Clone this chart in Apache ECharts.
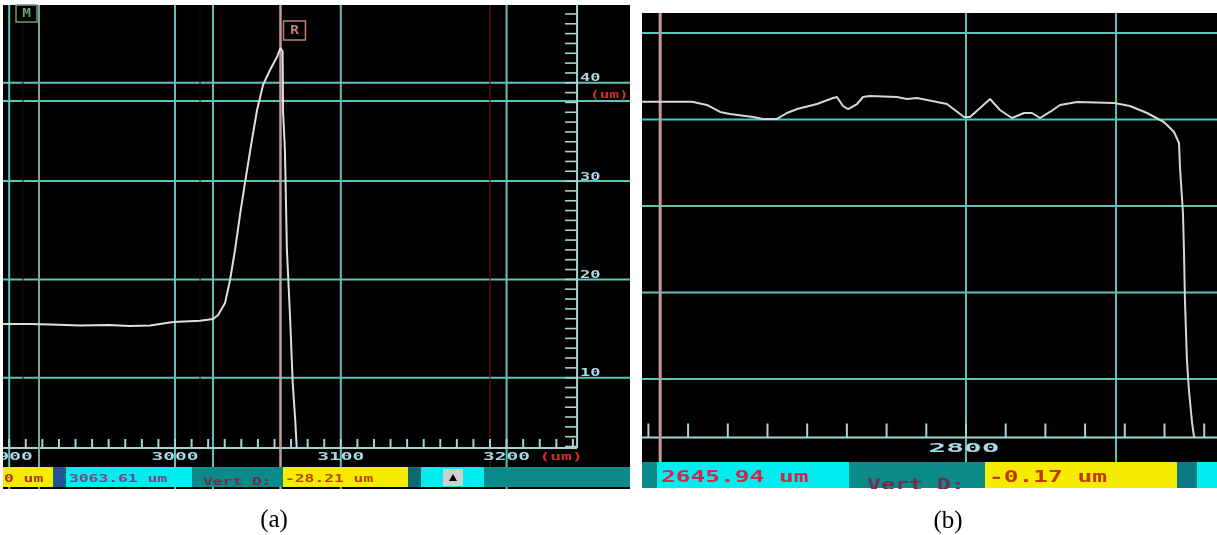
<!DOCTYPE html>
<html>
<head>
<meta charset="utf-8">
<script src="https://cdn.jsdelivr.net/npm/echarts@6/dist/echarts.min.js"></script>
<style>
  html, body { margin: 0; padding: 0; background: #fff; }
  #chart { width: 1217px; height: 535px; }
</style>
</head>
<body>
<div id="chart"></div>
<script>
// ---- Trace (a): lateral position (um) / height (um)
const profileAx = [2896.3, 2912.4, 2925.0, 2942.6, 2960.0, 2972.8, 2985.0, 2998.8, 3015.1, 3023.0,
                   3026.0, 3030.2, 3033.2, 3036.2, 3039.2, 3042.2, 3046.4, 3049.5, 3053.1, 3057.3,
                   3061.5, 3063.61, 3064.9, 3065.2, 3066.3, 3067.5, 3069.4, 3071.0, 3072.4, 3073.4];
const profileAy = [15.46, 15.46, 15.40, 15.30, 15.36, 15.26, 15.32, 15.67, 15.80, 15.97,
                   16.38, 17.60, 19.94, 22.99, 26.55, 29.81, 34.18, 37.23, 39.78, 41.30,
                   42.62, 43.54, 43.20, 37.00, 33.16, 22.99, 16.17, 9.46, 6.00, 2.95];

// ---- Trace (b)
const profileBx = [2636.8, 2662.0, 2669.5, 2676.1, 2681.1, 2692.7, 2697.7, 2704.8, 2709.8, 2714.9,
                   2724.9, 2733.0, 2735.0, 2738.0, 2740.6, 2745.1, 2748.1, 2751.6, 2765.2, 2770.3,
                   2775.3, 2785.4, 2790.4, 2799.0, 2802.0, 2807.1, 2812.1, 2817.1, 2823.2, 2829.2,
                   2833.2, 2837.3, 2842.3, 2847.4, 2855.9, 2874.6, 2882.6, 2891.2, 2899.7, 2904.8,
                   2907.3, 2907.8, 2909.3, 2909.8, 2910.3, 2911.3, 2912.3, 2913.9, 2914.9];
const profileBy = [42.06, 42.06, 41.68, 40.87, 40.64, 40.29, 40.06, 40.06, 40.75, 41.21,
                   41.79, 42.49, 42.60, 41.56, 41.21, 41.79, 42.60, 42.72, 42.60, 42.37,
                   42.49, 42.02, 41.79, 40.29, 40.29, 41.33, 42.37, 41.10, 40.17, 40.75,
                   40.75, 40.17, 40.87, 41.68, 42.02, 41.91, 41.56, 40.75, 39.71, 38.55,
                   37.28, 34.51, 29.19, 24.91, 19.13, 12.20, 8.73, 4.91, 3.29];

// ---- Screen grid lines
const gridAx = [2900, 3000, 3022.9, 3100, 3200];
const gridAy = [10, 20, 30, 38.15, 40];
const gridBx = [2800, 2875.6];
const gridBy = [10, 20, 30, 40, 50];
const faintAx = [2908.3, 3015.1];
const markAx = [3190];

// ---- Cursors
const cursorAM = 2917.98;
const cursorAR = 3063.61;
const cursorBR = 2645.94;

// ---- Scale labels
const tickLabelsAx = [2900, 3000, 3100, 3200];
const tickLabelsAy = [10, 20, 30, 40];
const tickLabelsBx = [2800];
const unitLabel = '(um)';

// ---- Readouts
const readoutA = ['0 um', '3063.61 um', 'Vert D:', '-28.21 um'];
const readoutB = ['2645.94 um', 'Vert D:', '-0.17 um'];

// Axis windows and scale positions
const AX = { min: 2896.26, max: 3274.43 };
const AY = { min: -1.32, max: 47.91 };
const BX = { min: 2636.78, max: 2926.45 };
const BY = { min: -2.60, max: 52.31 };
const RULER_A = { x: 3242.5, y: 2.85 };
const RULER_B = { y: 3.24 };

function steps(from, to, step) {
  const out = [];
  for (let v = from; v <= to + 1e-9; v += step) out.push(+v.toFixed(6));
  return out;
}
const rulerTicksAx = steps(2900, 3240, 10);
const rulerTicksAy = steps(3, 47, 1);
const rulerTicksBx = steps(2640, 2920, 20);

const MONO = 'DejaVu Sans Mono';
const GRID_COLOR = '#5fc3bb';
const RULER_COLOR = '#a9d3d3';
const LABEL_COLOR = '#a9dbe6';

function custom(idx, data, renderItem, z) {
  return { type: 'custom', xAxisIndex: idx, yAxisIndex: idx, data, renderItem, z, silent: true, clip: false };
}
function vLine(color, width) {
  return function (params, api) {
    const cs = params.coordSys;
    const x = api.coord([api.value(0), api.value(1)])[0];
    return { type: 'line', shape: { x1: x, y1: cs.y, x2: x, y2: cs.y + cs.height },
             style: { stroke: color, lineWidth: width } };
  };
}
function hLine(color, width) {
  return function (params, api) {
    const cs = params.coordSys;
    const y = api.coord([api.value(0), api.value(1)])[1];
    return { type: 'line', shape: { x1: cs.x, y1: y, x2: cs.x + cs.width, y2: y },
             style: { stroke: color, lineWidth: width } };
  };
}
function monoText(text, x, y, size, sx, fill, align) {
  return { type: 'text', x, y, scaleX: sx,
           style: { text, fill, fontSize: size, fontFamily: MONO, fontWeight: 'bold',
                    align: align || 'center', verticalAlign: 'middle' } };
}

const series = [
  // ---- window (a)
  custom(0, gridAx.map(v => [v, AY.min]), vLine(GRID_COLOR, 2), 1),
  custom(0, gridAy.map(v => [AX.min, v]), hLine(GRID_COLOR, 2), 1),
  custom(0, faintAx.map(v => [v, AY.min]), vLine('#2c0404', 1), 1),
  custom(0, markAx.map(v => [v, AY.min]), vLine('#6e0a0a', 1.2), 1),
  // bottom and right scales
  custom(0, [[RULER_A.x, RULER_A.y]], function (params, api) {
    const cs = params.coordSys;
    const p = api.coord([api.value(0), api.value(1)]);
    return { type: 'group', children: [
      { type: 'line', shape: { x1: cs.x, y1: p[1], x2: p[0], y2: p[1] }, style: { stroke: RULER_COLOR, lineWidth: 2 } },
      { type: 'line', shape: { x1: p[0], y1: cs.y, x2: p[0], y2: p[1] }, style: { stroke: RULER_COLOR, lineWidth: 2 } }
    ] };
  }, 3),
  custom(0, rulerTicksAx.map(v => [v, RULER_A.y]), function (params, api) {
    const p = api.coord([api.value(0), api.value(1)]);
    return { type: 'line', shape: { x1: p[0], y1: p[1], x2: p[0], y2: p[1] - 9 }, style: { stroke: RULER_COLOR, lineWidth: 2 } };
  }, 3),
  custom(0, rulerTicksAy.map(v => [RULER_A.x, v]), function (params, api) {
    const p = api.coord([api.value(0), api.value(1)]);
    return { type: 'line', shape: { x1: p[0] - 12, y1: p[1], x2: p[0], y2: p[1] }, style: { stroke: RULER_COLOR, lineWidth: 1.6 } };
  }, 3),
  custom(0, tickLabelsAx.map(v => [v, RULER_A.y]), function (params, api) {
    const p = api.coord([api.value(0), api.value(1)]);
    return monoText(String(Math.round(api.value(0))), p[0], p[1] + 9.5, 10, 1.95, LABEL_COLOR);
  }, 3),
  custom(0, tickLabelsAy.map(v => [RULER_A.x, v]), function (params, api) {
    const p = api.coord([api.value(0), api.value(1)]);
    return monoText(String(Math.round(api.value(1))), p[0] + 3, p[1] - 4, 10, 1.7, LABEL_COLOR, 'left');
  }, 3),
  // unit names next to both scales
  custom(0, [[RULER_A.x, RULER_A.y]], function (params, api) {
    const p = api.coord([api.value(0), api.value(1)]);
    const top = api.coord([api.value(0), tickLabelsAy[tickLabelsAy.length - 1]]);
    return { type: 'group', children: [
      monoText(unitLabel, p[0] - 16, p[1] + 9.5, 10, 1.8, '#d42a22'),
      monoText(unitLabel, p[0] + 13, top[1] + 13, 10, 1.6, '#d42a22', 'left')
    ] };
  }, 3),
  // cursors
  custom(0, [[cursorAM, AY.min]], function (params, api) {
    const cs = params.coordSys;
    const x = api.coord([api.value(0), api.value(1)])[0];
    return { type: 'group', children: [
      { type: 'line', shape: { x1: x, y1: cs.y, x2: x, y2: cs.y + cs.height }, style: { stroke: '#79a88f', lineWidth: 2 } },
      { type: 'rect', shape: { x: x - 23, y: cs.y, width: 21, height: 17 }, style: { fill: 'none', stroke: '#6f9a80', lineWidth: 1.5 } },
      monoText('M', x - 12.5, cs.y + 9, 12, 1.2, '#6f9a80')
    ] };
  }, 4),
  custom(0, [[cursorAR, AY.min]], function (params, api) {
    const cs = params.coordSys;
    const x = api.coord([api.value(0), api.value(1)])[0];
    return { type: 'group', children: [
      { type: 'line', shape: { x1: x, y1: cs.y, x2: x, y2: cs.y + cs.height }, style: { stroke: '#c69a9a', lineWidth: 2.5 } },
      { type: 'rect', shape: { x: x + 3, y: cs.y + 16, width: 22, height: 19 }, style: { fill: '#000', stroke: '#c0826f', lineWidth: 1.5 } },
      monoText('R', x + 14, cs.y + 26, 12, 1.2, '#c0826f')
    ] };
  }, 4),
  { type: 'line', xAxisIndex: 0, yAxisIndex: 0, z: 5, symbol: 'none', silent: true,
    data: profileAx.map((x, i) => [x, profileAy[i]]),
    lineStyle: { color: '#dedede', width: 2 } },

  // ---- window (b)
  custom(1, gridBx.map(v => [v, BY.min]), vLine(GRID_COLOR, 2), 1),
  custom(1, gridBy.map(v => [BX.min, v]), function (params, api) {
    const cs = params.coordSys;
    const v = api.value(1);
    const y = api.coord([api.value(0), v])[1];
    return { type: 'line', shape: { x1: cs.x, y1: y, x2: cs.x + cs.width, y2: y },
             style: { stroke: v === 40 ? '#3fc9c6' : GRID_COLOR, lineWidth: 2 } };
  }, 1),
  custom(1, [[BX.max, RULER_B.y]], function (params, api) {
    const cs = params.coordSys;
    const p = api.coord([api.value(0), api.value(1)]);
    return { type: 'line', shape: { x1: cs.x, y1: p[1], x2: cs.x + cs.width, y2: p[1] }, style: { stroke: RULER_COLOR, lineWidth: 2 } };
  }, 3),
  custom(1, rulerTicksBx.map(v => [v, RULER_B.y]), function (params, api) {
    const p = api.coord([api.value(0), api.value(1)]);
    return { type: 'line', shape: { x1: p[0], y1: p[1], x2: p[0], y2: p[1] - 14 }, style: { stroke: RULER_COLOR, lineWidth: 2 } };
  }, 3),
  custom(1, tickLabelsBx.map(v => [v, RULER_B.y]), function (params, api) {
    const p = api.coord([api.value(0), api.value(1)]);
    return monoText(String(Math.round(api.value(0))), p[0] - 2, p[1] + 11.5, 12.5, 2.35, LABEL_COLOR);
  }, 3),
  custom(1, [[cursorBR, BY.min]], vLine('#c69a9a', 3), 4),
  { type: 'line', xAxisIndex: 1, yAxisIndex: 1, z: 5, symbol: 'none', silent: true,
    data: profileBx.map((x, i) => [x, profileBy[i]]),
    lineStyle: { color: '#d6d6d6', width: 2 } }
];

// ---- Status bars under each window
const TEAL = '#0b8a8a', YELLOW = '#f6ec00', CYAN = '#00eef0';
function box(x, y, w, h, fill) {
  return { type: 'rect', z: 10, silent: true, shape: { x, y, width: w, height: h }, style: { fill } };
}
function barText(text, x, y, size, sx, fill) {
  return Object.assign(monoText(text, x, y, size, sx, fill, 'left'), { z: 11, silent: true });
}
const graphic = [
  // bar (a)
  box(3, 467, 627, 20, TEAL),
  box(3, 467, 50, 20, YELLOW),
  box(53, 467, 13, 20, '#0d6878'),
  box(55, 467, 8, 20, '#2a4f9a'),
  box(66, 467, 126, 20, CYAN),
  box(283, 467, 125, 20, YELLOW),
  box(408, 467, 13, 20, '#086a72'),
  box(421, 467, 63, 20, CYAN),
  box(443, 469, 20, 17, '#cfcfcf'),
  { type: 'polygon', z: 11, silent: true, shape: { points: [[449, 481], [453, 474], [457, 481]] }, style: { fill: '#000' } },
  barText(readoutA[0], 4, 479, 11, 1.48, '#b0301a'),
  barText(readoutA[1], 69, 479, 11, 1.48, '#8a3d80'),
  barText(readoutA[2], 203, 482, 11, 1.48, '#7a2a50'),
  barText(readoutA[3], 285, 479, 11, 1.48, '#b84200'),
  // bar (b)
  box(642, 462, 575, 26, TEAL),
  box(657, 462, 192, 26, CYAN),
  box(985, 462, 192, 26, YELLOW),
  box(1177, 462, 19, 26, '#0a7a84'),
  box(1197, 462, 20, 26, CYAN),
  barText(readoutB[0], 661, 477.5, 16, 1.53, '#d0284a'),
  barText(readoutB[1], 867, 486, 16, 1.45, '#7a2a50'),
  barText(readoutB[2], 989, 477.5, 16, 1.53, '#c23a00'),
  // page margins around the two windows
  box(0, 0, 3, 535, '#fff'),
  box(630, 0, 12, 535, '#fff'),
  box(0, 489, 1217, 16, '#fff'),
  // captions
  { type: 'text', z: 12, silent: true, x: 274, y: 520,
    style: { text: '(a)', fill: '#000', fontSize: 25, fontFamily: 'Liberation Serif', align: 'center', verticalAlign: 'middle' } },
  { type: 'text', z: 12, silent: true, x: 948, y: 521,
    style: { text: '(b)', fill: '#000', fontSize: 25, fontFamily: 'Liberation Serif', align: 'center', verticalAlign: 'middle' } }
];
graphic.forEach(g => { if (g.type === 'rect' && g.style.fill === '#fff') g.z = 20; });

const chart = echarts.init(document.getElementById('chart'), null, { renderer: 'canvas' });
chart.setOption({
  animation: false,
  backgroundColor: '#fff',
  grid: [
    { left: 3, top: 5, width: 627, height: 484, show: true, backgroundColor: '#000', borderWidth: 0 },
    { left: 642, top: 13, width: 575, height: 475, show: true, backgroundColor: '#000', borderWidth: 0 }
  ],
  xAxis: [
    { type: 'value', gridIndex: 0, min: AX.min, max: AX.max, show: false },
    { type: 'value', gridIndex: 1, min: BX.min, max: BX.max, show: false }
  ],
  yAxis: [
    { type: 'value', gridIndex: 0, min: AY.min, max: AY.max, show: false },
    { type: 'value', gridIndex: 1, min: BY.min, max: BY.max, show: false }
  ],
  series,
  graphic
});
</script>
</body>
</html>
